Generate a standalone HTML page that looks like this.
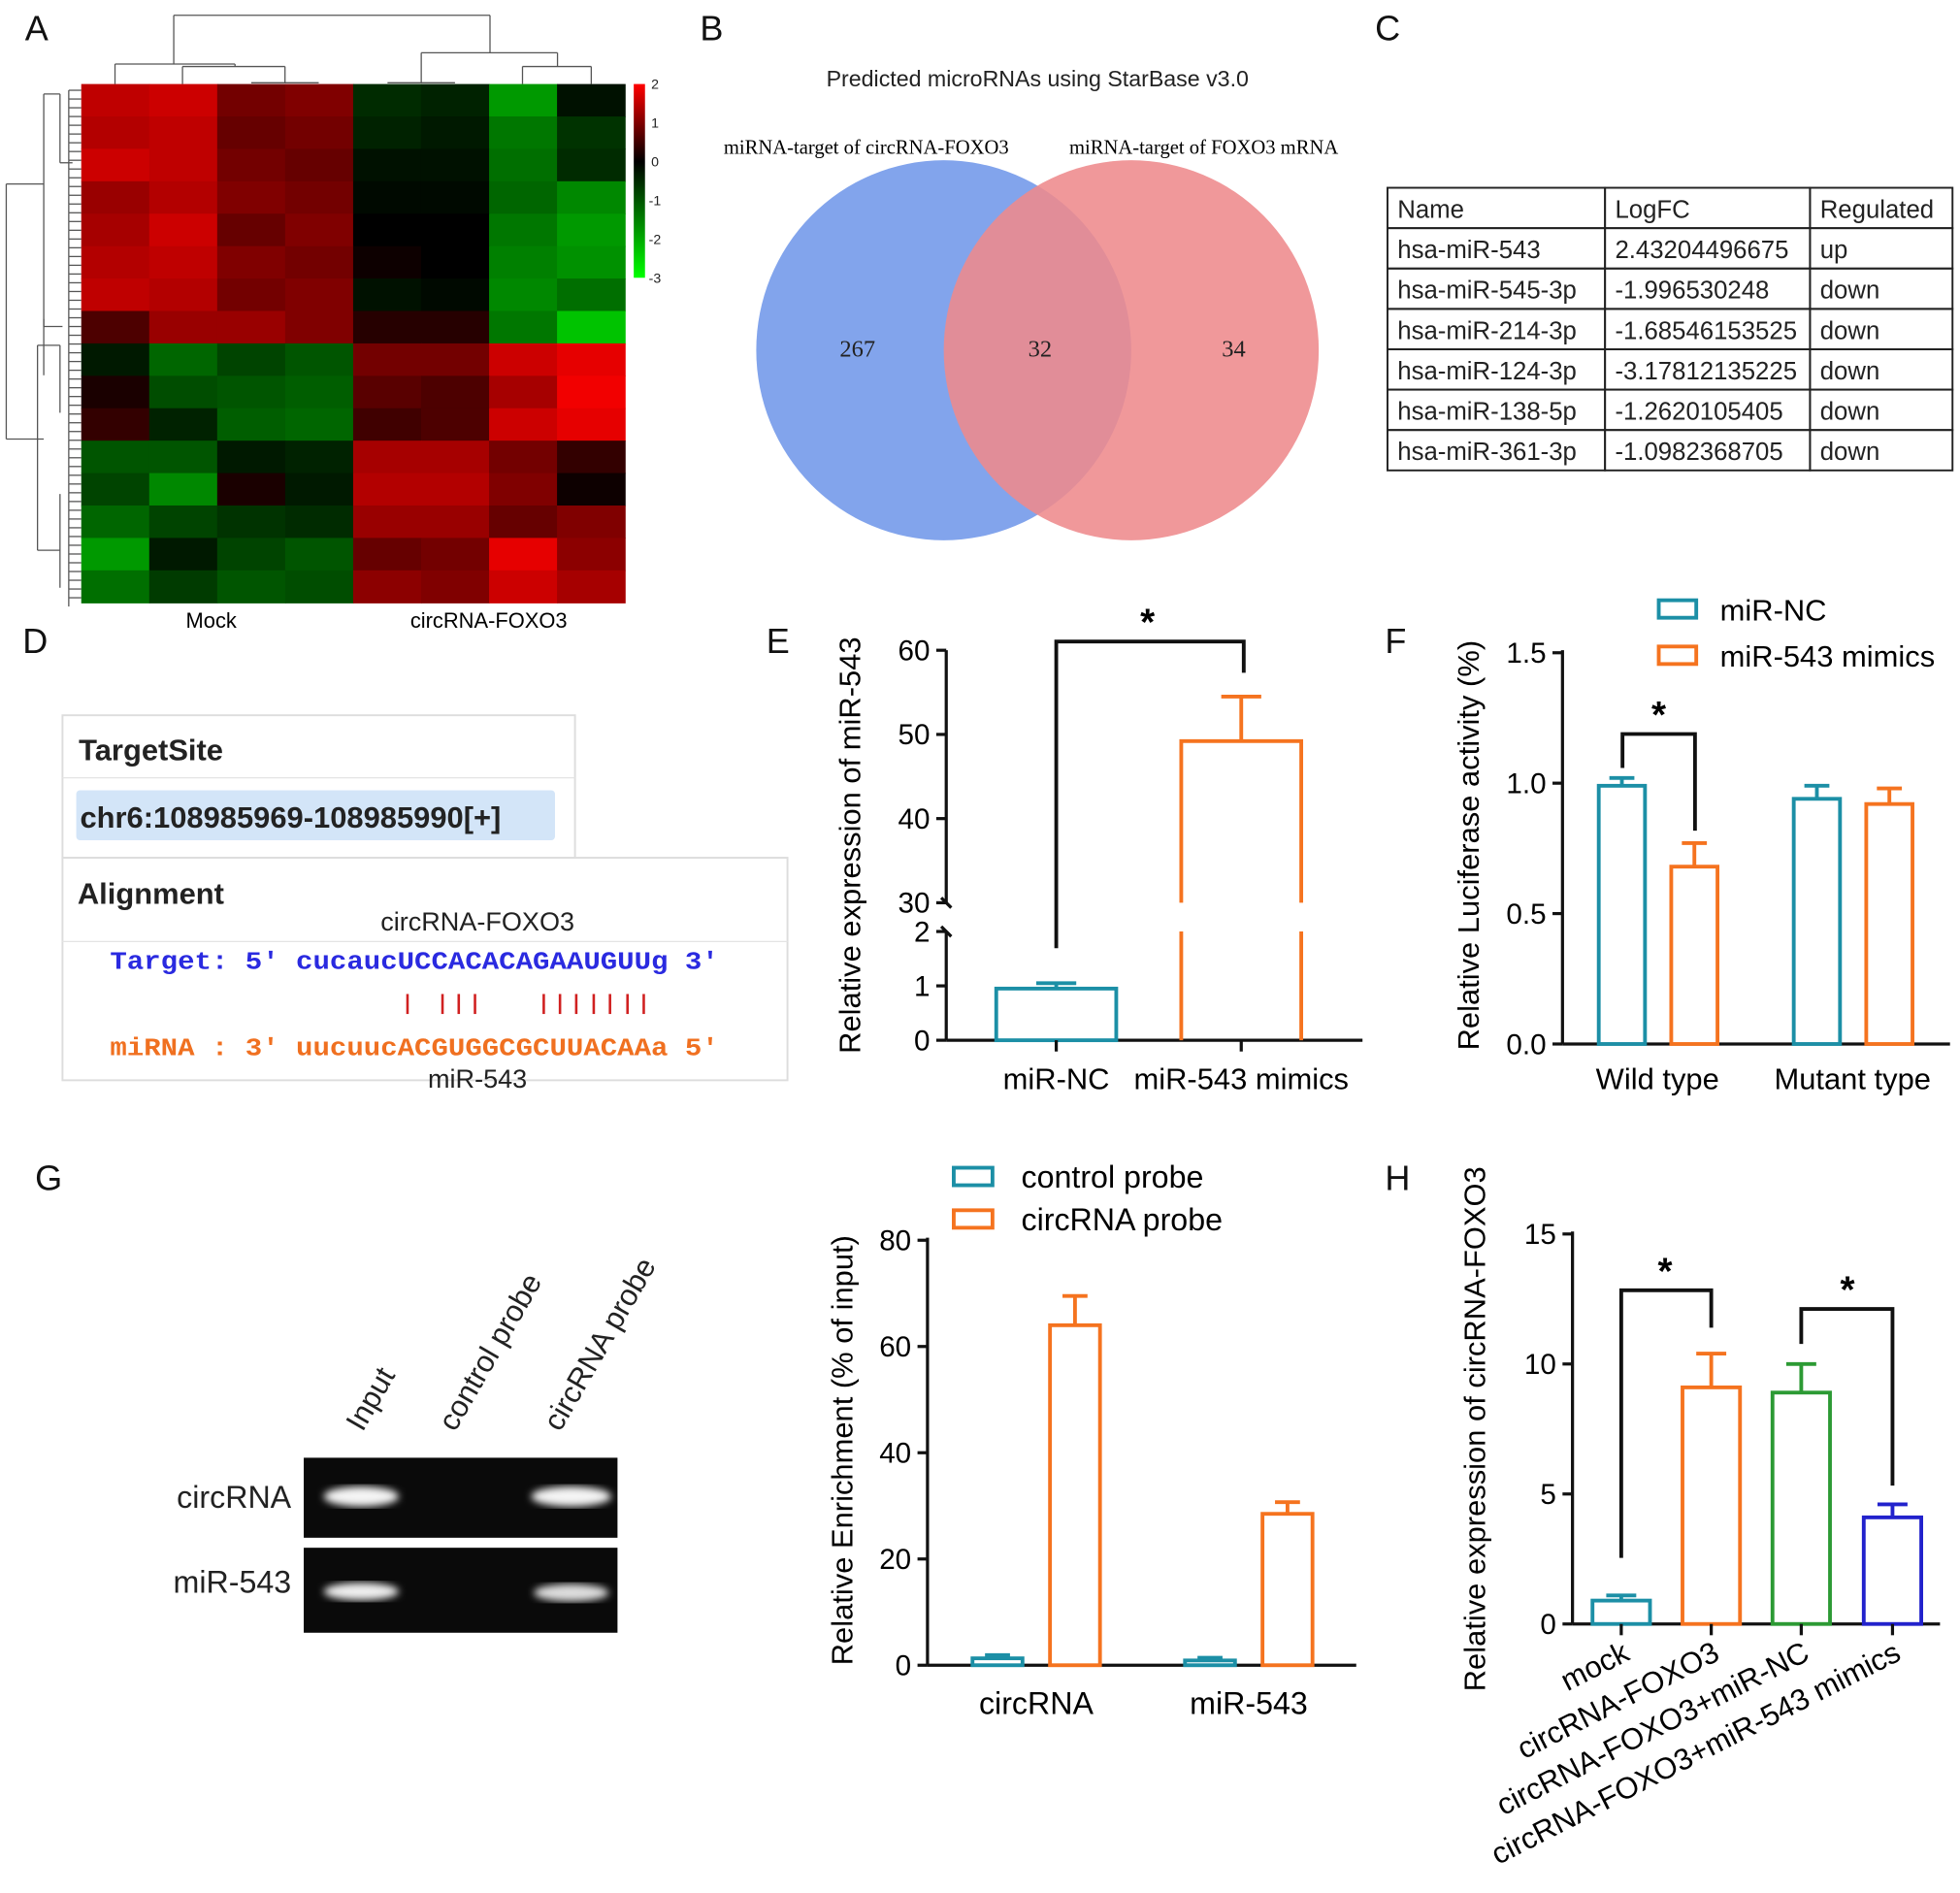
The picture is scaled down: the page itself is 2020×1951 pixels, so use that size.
<!DOCTYPE html>
<html><head><meta charset="utf-8"><style>
html,body{margin:0;padding:0;background:#fff;}
svg{display:block;font-family:"Liberation Sans",Arial,sans-serif;}
.serif{font-family:"Liberation Serif",serif;}
.mono{font-family:"Liberation Mono",monospace;}
</style></head><body>
<svg id="fig" width="2020" height="1951" viewBox="0 0 1568 1514" xmlns="http://www.w3.org/2000/svg">
<g font-size="28" fill="#111">
<text x="20" y="32">A</text><text x="560" y="32">B</text><text x="1100" y="32">C</text>
<text x="18" y="522">D</text><text x="613" y="522">E</text><text x="1108" y="522">F</text>
<text x="28" y="952">G</text><text x="1108" y="952">H</text>
</g>
<g id="heat"></g>
<g id="dendro" stroke="#555" stroke-width="1" fill="none"></g>
<g>
<defs><linearGradient id="cb" x1="0" y1="0" x2="0" y2="1"><stop offset="0" stop-color="#ff0000"/><stop offset="0.4" stop-color="#000"/><stop offset="1" stop-color="#00ff00"/></linearGradient></defs>
<rect x="507" y="67" width="9" height="155" fill="url(#cb)"/>
<g font-size="11" fill="#222"><text x="521" y="71">2</text><text x="521" y="102">1</text><text x="521" y="133">0</text><text x="519" y="164">-1</text><text x="519" y="195">-2</text><text x="519" y="226">-3</text></g>
</g>
<text x="169" y="502" font-size="17" text-anchor="middle">Mock</text>
<text x="391" y="502" font-size="17" text-anchor="middle">circRNA-FOXO3</text>

<g>
<text x="830" y="69" font-size="18" text-anchor="middle" fill="#222">Predicted microRNAs using StarBase v3.0</text>
<text x="693" y="123" font-size="16" text-anchor="middle" class="serif">miRNA-target of circRNA-FOXO3</text>
<text x="963" y="123" font-size="16" text-anchor="middle" class="serif">miRNA-target of FOXO3 mRNA</text>
<ellipse cx="755" cy="280" rx="150" ry="152" fill="#82a4ec"/>
<ellipse cx="905" cy="280" rx="150" ry="152" fill="#ee8a8c" fill-opacity="0.88"/>
<g font-size="19" class="serif" text-anchor="middle" fill="#222"><text x="686" y="285">267</text><text x="832" y="285">32</text><text x="987" y="285">34</text></g>
</g>

<g id="tbl" font-size="20" fill="#222"></g>

<g>
<rect x="50" y="572" width="410" height="114" fill="#fff" stroke="#ddd" stroke-width="1.5"/>
<line x1="50" y1="622" x2="460" y2="622" stroke="#e4e4e4"/>
<text x="63" y="608" font-size="24" font-weight="bold" fill="#222">TargetSite</text>
<rect x="61" y="632" width="383" height="40" rx="3" fill="#d3e5f8"/>
<text x="64" y="662" font-size="24" font-weight="bold" fill="#222">chr6:108985969-108985990[+]</text>
<rect x="50" y="686" width="580" height="178" fill="#fff" stroke="#ddd" stroke-width="1.5"/>
<line x1="50" y1="753" x2="630" y2="753" stroke="#e4e4e4"/>
<text x="62" y="723" font-size="24" font-weight="bold" fill="#222">Alignment</text>
<text x="382" y="744" font-size="21" text-anchor="middle" fill="#222">circRNA-FOXO3</text>
<text x="88" y="775" font-size="20" class="mono" fill="#2a2ae0" font-weight="bold" textLength="487" lengthAdjust="spacingAndGlyphs">Target: 5' cucaucUCCACACAGAAUGUUg 3'</text>
<g id="pairs" stroke="#d02020" stroke-width="2"></g>
<text x="88" y="844" font-size="20" class="mono" fill="#f07020" font-weight="bold" textLength="487" lengthAdjust="spacingAndGlyphs">miRNA : 3' uucuucACGUGGCGCUUACAAa 5'</text>
<text x="382" y="870" font-size="21" text-anchor="middle" fill="#222">miR-543</text>
</g>

<g id="E"></g>
<g id="F"></g>
<g>
<defs><filter id="blur"><feGaussianBlur stdDeviation="3"/></filter></defs>
<rect x="243" y="1166" width="251" height="64" fill="#0a0a0a"/>
<rect x="243" y="1238" width="251" height="68" fill="#0a0a0a"/>
<ellipse cx="289" cy="1197" rx="30" ry="8" fill="#f4f4f4" filter="url(#blur)"/>
<ellipse cx="457" cy="1197" rx="32" ry="8" fill="#f4f4f4" filter="url(#blur)"/>
<ellipse cx="289" cy="1273" rx="30" ry="7" fill="#eee" filter="url(#blur)"/>
<ellipse cx="457" cy="1274" rx="30" ry="7" fill="#ddd" filter="url(#blur)"/>
<g font-size="25" fill="#222" text-anchor="end"><text x="233" y="1206">circRNA</text><text x="233" y="1274">miR-543</text></g>
<g font-size="24" fill="#222"><text transform="translate(290,1146) rotate(-60)">Input</text><text transform="translate(364,1146) rotate(-60)">control probe</text><text transform="translate(448,1146) rotate(-60)">circRNA probe</text></g>
</g>
<g id="G"></g>
<g id="H"></g>
</svg>
<script>
const NS='http://www.w3.org/2000/svg';
// ---------- data ----------
const heatValues=[
[1.5,1.6,0.9,1.0,-0.5,-0.4,-1.8,-0.2],
[1.4,1.5,0.8,0.9,-0.4,-0.3,-1.4,-0.6],
[1.6,1.5,0.9,0.8,-0.2,-0.2,-1.3,-0.5],
[1.2,1.4,1.0,0.9,-0.1,-0.1,-1.2,-1.6],
[1.3,1.6,0.8,1.0,0.0,0.0,-1.4,-1.8],
[1.4,1.5,1.0,0.9,0.1,0.0,-1.5,-1.7],
[1.5,1.4,0.9,1.0,-0.2,-0.1,-1.6,-1.3],
[0.6,1.2,1.2,1.0,0.3,0.3,-1.4,-2.3],
[-0.3,-1.2,-0.8,-1.0,0.9,0.9,1.6,1.8],
[0.2,-0.9,-1.0,-1.1,0.7,0.6,1.3,1.9],
[0.4,-0.4,-1.1,-1.2,0.5,0.6,1.6,1.8],
[-1.0,-1.0,-0.3,-0.4,1.3,1.3,0.9,0.4],
[-0.8,-1.6,0.2,-0.3,1.4,1.4,1.0,0.1],
[-1.2,-0.8,-0.6,-0.5,1.2,1.2,0.8,1.0],
[-1.8,-0.3,-0.8,-1.0,0.8,0.9,1.8,1.1],
[-1.3,-0.7,-1.0,-0.9,1.1,1.0,1.6,1.3]];
const tableRows=[["Name","LogFC","Regulated"],["hsa-miR-543","2.43204496675","up"],["hsa-miR-545-3p","-1.996530248","down"],["hsa-miR-214-3p","-1.68546153525","down"],["hsa-miR-124-3p","-3.17812135225","down"],["hsa-miR-138-5p","-1.2620105405","down"],["hsa-miR-361-3p","-1.0982368705","down"]];
const eCategories=["miR-NC","miR-543 mimics"];
const eValues=[0.95,49.2];
const eErrors=[0.1,5.3];
const fCategories=["Wild type","Mutant type"];
const fSeries=["miR-NC","miR-543 mimics"];
const fNC=[0.99,0.94];
const fNCerr=[0.03,0.05];
const fMim=[0.68,0.92];
const fMimErr=[0.09,0.06];
const fTicks=["0.0","0.5","1.0","1.5"];
const gCategories=["circRNA","miR-543"];
const gSeries=["control probe","circRNA probe"];
const gCtrl=[1.3,0.9];
const gCtrlErr=[0.6,0.5];
const gProbe=[64,28.5];
const gProbeErr=[5.5,2.2];
const gTicks=[0,20,40,60,80];
const hCategories=["mock","circRNA-FOXO3","circRNA-FOXO3+miR-NC","circRNA-FOXO3+miR-543 mimics"];
const hValues=[0.9,9.1,8.9,4.1];
const hErrors=[0.2,1.3,1.1,0.5];
const hTicks=[0,5,10,15];
const TEAL='#1c8fa6',ORANGE='#f5731f',GREEN='#2c9a34',BLUE='#2222cc';
function el(tag,attrs,parent,text){const e=document.createElementNS(NS,tag);for(const k in attrs)e.setAttribute(k,attrs[k]);if(text!==undefined)e.textContent=text;parent.appendChild(e);return e;}
// ---------- heatmap ----------
(function(){
 const g=document.getElementById('heat');const x0=65,x1=500,y0=67,y1=482;
 const cw=(x1-x0)/8,rh=(y1-y0)/heatValues.length;
 function col(v){if(v>=0){return 'rgb('+Math.round(Math.min(1,v/2)*255)+',0,0)';}return 'rgb(0,'+Math.round(Math.min(1,-v/3)*255)+',0)';}
 heatValues.forEach((row,i)=>row.forEach((v,j)=>{
  const r=el('rect',{x:x0+j*cw,y:y0+i*rh,width:cw+0.5,height:rh+0.5,fill:col(v)},g);
  
  
 }));
 const d=document.getElementById('dendro');
 const segs=[[139,12,392,12],[139,12,139,51],[392,12,392,42],[92,51,188,51],[92,51,92,67],[188,51,188,53],[146,53,228,53],[146,53,146,67],[228,53,228,66],[201,66,255,66],[337,42,446,42],[337,42,337,66],[446,42,446,53],[310,66,364,66],[418,53,473,53],[418,53,418,67],[473,53,473,67],
 [5,147,5,351],[5,147,35,147],[5,351,35,351],[35,75,35,261],[35,261,50,261],[35,75,48,75],[48,75,48,130],[48,130,58,130],[35,255,35,300],[30,276,30,440],[30,276,48,276],[30,440,48,440],[48,276,48,330],[48,395,48,470]];
 segs.forEach(s=>el('line',{x1:s[0],y1:s[1],x2:s[2],y2:s[3]},d));
 for(let y=72;y<480;y+=7){el('line',{x1:55,y1:y,x2:65,y2:y},d);el('line',{x1:55,y1:y,x2:55,y2:y+7},d);}
})();
// ---------- table ----------
(function(){
 const g=document.getElementById('tbl');const xs=[1110,1284,1448,1562];const y0=150,rh=32.3;
 tableRows.forEach((row,i)=>row.forEach((c,j)=>{
  el('rect',{x:xs[j],y:y0+i*rh,width:xs[j+1]-xs[j],height:rh,fill:'none',stroke:'#222','stroke-width':1.5},g);
  const t=el('text',{x:xs[j]+8,y:y0+i*rh+24},g,c);
  
  
 }));
 const p=document.getElementById('pairs');
 [326,354,367,380,435,448,461,475,488,502,515].forEach(x=>el('line',{x1:x,y1:795,x2:x,y2:811},p));
})();
// ---------- helpers ----------
function bar(g,x,w,yTop,yBase,color,name){
 const r=el('rect',{x:x,y:yTop,width:w,height:yBase-yTop,fill:'#fff',stroke:color,'stroke-width':3},g);
 
 
}
function errbar(g,cx,yTop,yErr,half,color){
 el('line',{x1:cx,y1:yTop,x2:cx,y2:yErr,stroke:color,'stroke-width':3},g);
 el('line',{x1:cx-half,y1:yErr,x2:cx+half,y2:yErr,stroke:color,'stroke-width':3},g);
}
function star(g,x,y){el('text',{x:x,y:y,'font-size':30,'text-anchor':'middle','font-weight':'bold'},g,'*');}
// ---------- E ----------
(function(){
 const g=document.getElementById('E');const ax=757,base=832;
 function yLow(v){return base-v*43.5;}
 function yHigh(v){return 722-(v-30)*(202/30);}
 function y(v){return v<=2?yLow(v):yHigh(v);}
 el('line',{x1:ax,y1:520,x2:ax,y2:722,stroke:'#111','stroke-width':2.5},g);
 el('line',{x1:ax,y1:745,x2:ax,y2:base,stroke:'#111','stroke-width':2.5},g);
 el('line',{x1:ax,y1:base,x2:1090,y2:base,stroke:'#111','stroke-width':2.5},g);
 el('line',{x1:ax-4,y1:718,x2:ax+4,y2:726,stroke:'#111','stroke-width':2.5},g);
 el('line',{x1:ax-4,y1:741,x2:ax+4,y2:749,stroke:'#111','stroke-width':2.5},g);
 [0,1,2].forEach(v=>{el('line',{x1:ax-8,y1:yLow(v),x2:ax,y2:yLow(v),stroke:'#111','stroke-width':2.5},g);el('text',{x:ax-13,y:yLow(v)+8,'font-size':23,'text-anchor':'end'},g,String(v));});
 [30,40,50,60].forEach(v=>{el('line',{x1:ax-8,y1:yHigh(v),x2:ax,y2:yHigh(v),stroke:'#111','stroke-width':2.5},g);el('text',{x:ax-13,y:yHigh(v)+8,'font-size':23,'text-anchor':'end'},g,String(v));});
 el('text',{transform:'translate(688,676) rotate(-90)','font-size':24,'text-anchor':'middle'},g,'Relative expression of miR-543');
 const cx=[845,993],w=96,cols=[TEAL,ORANGE];
 eCategories.forEach((c,i)=>{
  const top=y(eValues[i]);
  if(eValues[i]>30){
   el('path',{d:`M${cx[i]-w/2},722 V${top} H${cx[i]+w/2} V722`,fill:'none',stroke:cols[i],'stroke-width':3},g);
   el('line',{x1:cx[i]-w/2,y1:745,x2:cx[i]-w/2,y2:base,stroke:cols[i],'stroke-width':3},g);
   el('line',{x1:cx[i]+w/2,y1:745,x2:cx[i]+w/2,y2:base,stroke:cols[i],'stroke-width':3},g);
   const r=el('rect',{x:cx[i]-w/2,y:top,width:w,height:base-top,fill:'none',stroke:'none'},g);
   
   
  } else bar(g,cx[i]-w/2,w,top,base,cols[i],'bar-'+c.toLowerCase());
  errbar(g,cx[i],top,y(eValues[i]+eErrors[i]),16,cols[i]);
  el('line',{x1:cx[i],y1:base,x2:cx[i],y2:base+9,stroke:'#111','stroke-width':2.5},g);
  el('text',{x:cx[i],y:871,'font-size':24,'text-anchor':'middle'},g,c);
 });
 el('path',{d:`M845,${y(eValues[0]+eErrors[0])-28} V513 H995 V538`,fill:'none',stroke:'#111','stroke-width':3},g);
 star(g,918,508);
})();
// ---------- F ----------
(function(){
 const g=document.getElementById('F');const ax=1250,base=835,k=(835-522)/1.5;
 function y(v){return base-v*k;}
 el('line',{x1:ax,y1:520,x2:ax,y2:base,stroke:'#111','stroke-width':2.5},g);
 el('line',{x1:ax,y1:base,x2:1560,y2:base,stroke:'#111','stroke-width':2.5},g);
 fTicks.forEach(t=>{const v=parseFloat(t);el('line',{x1:ax-8,y1:y(v),x2:ax,y2:y(v),stroke:'#111','stroke-width':2.5},g);el('text',{x:ax-13,y:y(v)+8,'font-size':23,'text-anchor':'end'},g,t);});
 el('text',{transform:'translate(1183,676) rotate(-90)','font-size':24,'text-anchor':'middle'},g,'Relative Luciferase activity (%)');
 const gc=[1326,1482];
 fCategories.forEach((c,i)=>{
  bar(g,gc[i]-47,37,y(fNC[i]),base,TEAL,'bar-'+c.replace(/ /g,'-').toLowerCase()+'-mir-nc');
  errbar(g,gc[i]-28.5,y(fNC[i]),y(fNC[i]+fNCerr[i]),10,TEAL);
  bar(g,gc[i]+11,37,y(fMim[i]),base,ORANGE,'bar-'+c.replace(/ /g,'-').toLowerCase()+'-mimics');
  errbar(g,gc[i]+29.5,y(fMim[i]),y(fMim[i]+fMimErr[i]),10,ORANGE);
  el('text',{x:gc[i],y:871,'font-size':24,'text-anchor':'middle'},g,c);
 });
 el('path',{d:`M1298,${y(fNC[0]+fNCerr[0])-8} V587 H1356 V${y(fMim[0]+fMimErr[0])-10}`,fill:'none',stroke:'#111','stroke-width':3},g);
 star(g,1327,582);
 [TEAL,ORANGE].forEach((c,i)=>{
  const r=el('rect',{x:1327,y:480+i*37,width:30,height:14,fill:'#fff',stroke:c,'stroke-width':3},g);
  
  
  el('text',{x:1376,y:496+i*37,'font-size':24},g,fSeries[i]);
 });
})();
// ---------- G ----------
(function(){
 const g=document.getElementById('G');const ax=742,base=1332,k=(1332-992)/80;
 function y(v){return base-v*k;}
 el('line',{x1:ax,y1:990,x2:ax,y2:base,stroke:'#111','stroke-width':2.5},g);
 el('line',{x1:ax,y1:base,x2:1085,y2:base,stroke:'#111','stroke-width':2.5},g);
 gTicks.forEach(v=>{el('line',{x1:ax-8,y1:y(v),x2:ax,y2:y(v),stroke:'#111','stroke-width':2.5},g);el('text',{x:ax-13,y:y(v)+8,'font-size':23,'text-anchor':'end'},g,String(v));});
 el('text',{transform:'translate(682,1160) rotate(-90)','font-size':24,'text-anchor':'middle'},g,'Relative Enrichment (% of input)');
 const gc=[829,999];
 gCategories.forEach((c,i)=>{
  bar(g,gc[i]-51,40,y(gCtrl[i]),base,TEAL,'bar-'+c.toLowerCase()+'-control');
  errbar(g,gc[i]-31,y(gCtrl[i]),y(gCtrl[i]+gCtrlErr[i]),10,TEAL);
  bar(g,gc[i]+11,40,y(gProbe[i]),base,ORANGE,'bar-'+c.toLowerCase()+'-probe');
  errbar(g,gc[i]+31,y(gProbe[i]),y(gProbe[i]+gProbeErr[i]),10,ORANGE);
  el('text',{x:gc[i],y:1371,'font-size':25,'text-anchor':'middle'},g,c);
 });
 [TEAL,ORANGE].forEach((c,i)=>{
  const r=el('rect',{x:763,y:934+i*34,width:31,height:14,fill:'#fff',stroke:c,'stroke-width':3},g);
  
  
  el('text',{x:817,y:950+i*34,'font-size':25},g,gSeries[i]);
 });
})();
// ---------- H ----------
(function(){
 const g=document.getElementById('H');const ax=1258,base=1299,k=(1299-987)/15;
 function y(v){return base-v*k;}
 el('line',{x1:ax,y1:985,x2:ax,y2:base,stroke:'#111','stroke-width':2.5},g);
 el('line',{x1:ax,y1:base,x2:1552,y2:base,stroke:'#111','stroke-width':2.5},g);
 hTicks.forEach(v=>{el('line',{x1:ax-8,y1:y(v),x2:ax,y2:y(v),stroke:'#111','stroke-width':2.5},g);el('text',{x:ax-13,y:y(v)+8,'font-size':23,'text-anchor':'end'},g,String(v));});
 el('text',{transform:'translate(1188,1143) rotate(-90)','font-size':24,'text-anchor':'middle'},g,'Relative expression of circRNA-FOXO3');
 const cx=[1297,1369,1441,1514],cols=[TEAL,ORANGE,GREEN,BLUE];
 hCategories.forEach((c,i)=>{
  bar(g,cx[i]-23,46,y(hValues[i]),base,cols[i],'bar-'+c.replace(/[^a-zA-Z0-9]+/g,'-').toLowerCase());
  errbar(g,cx[i],y(hValues[i]),y(hValues[i]+hErrors[i]),12,cols[i]);
  el('line',{x1:cx[i],y1:base,x2:cx[i],y2:base+9,stroke:'#111','stroke-width':2.5},g);
  el('text',{transform:`translate(${cx[i]+8},${base+28}) rotate(-27)`,'font-size':24,'text-anchor':'end'},g,c);
 });
 el('path',{d:`M1297,${y(hValues[0]+hErrors[0])-30} V1032 H1369 V1062`,fill:'none',stroke:'#111','stroke-width':3},g);
 star(g,1332,1027);
 el('path',{d:`M1441,1075 V1047 H1514 V${y(hValues[3]+hErrors[3])-15}`,fill:'none',stroke:'#111','stroke-width':3},g);
 star(g,1478,1042);
})();
</script>
</body></html>
